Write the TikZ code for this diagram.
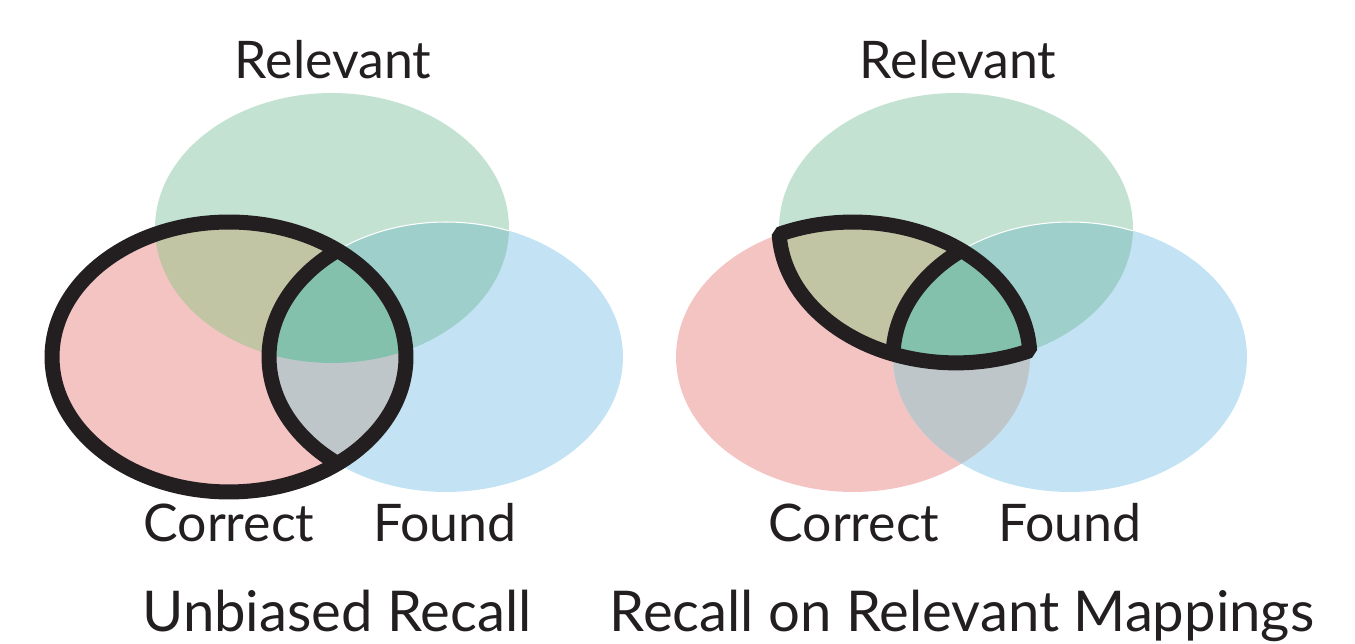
\documentclass[tikz,border=0pt]{standalone}
\usepackage{fontspec}
\setmainfont{Lato}
\definecolor{cG}{HTML}{C4E2D1}
\definecolor{cR}{HTML}{F4C4C3}
\definecolor{cB}{HTML}{C3E3F5}
\definecolor{cRC}{HTML}{C2C5A4}
\definecolor{cRF}{HTML}{9ECFCB}
\definecolor{cCF}{HTML}{BFC6C9}
\definecolor{cRCF}{HTML}{84C1AD}
\definecolor{ink}{HTML}{231F20}
\begin{document}
\begin{tikzpicture}[x=0.02cm,y=0.02cm,
  ell/.style={x radius=3.54cm, y radius=2.7cm},
  outline/.style={draw=ink, line width=0.3cm},
  lbl/.style={font=\fontsize{29.5}{32}\selectfont, text=ink, anchor=base, inner sep=0pt},
  ttl/.style={font=\fontsize{32}{36}\selectfont, text=ink, anchor=base, inner sep=0pt}]
\useasboundingbox (0,0) rectangle (1355,644);
\foreach \ox in {0,624}{
  \fill[cG] (332+\ox,416) ellipse[ell];
  \fill[cR] (229+\ox,287) ellipse[ell];
  \fill[cB] (446+\ox,287) ellipse[ell];
  \begin{scope}
    \clip (332+\ox,416) ellipse[ell];
    \fill[cRC] (229+\ox,287) ellipse[ell];
    \fill[cRF] (446+\ox,287) ellipse[ell];
  \end{scope}
  \begin{scope}
    \clip (229+\ox,287) ellipse[ell];
    \fill[cCF] (446+\ox,287) ellipse[ell];
    \clip (332+\ox,416) ellipse[ell];
    \fill[cRCF] (446+\ox,287) ellipse[ell];
  \end{scope}
  \begin{scope}
    \clip (332+\ox,416) ellipse[ell];
    \draw[white, line width=0.6pt] (446+\ox,287) ellipse[ell];
  \end{scope}
}
% left outline: Correct and Found arc inside it
\draw[outline] (229,287) ellipse[ell];
\begin{scope}
  \clip (229,287) ellipse[ell];
  \draw[outline] (446,287) ellipse[ell];
\end{scope}
% right outline: Relevant and Correct lens, Found arc inside it
\coordinate (P2) at (779.2,409.7);
\begin{scope}
  \clip (P2) arc[start angle=114.6, end angle=2.7, ell] arc[start angle=-65.4, end angle=-177.3, ell] -- cycle;
  \draw[outline] (1070,287) ellipse[ell];
\end{scope}
\draw[outline, line join=bevel] (P2) arc[start angle=114.6, end angle=2.7, ell] arc[start angle=-65.4, end angle=-177.3, ell] -- cycle;
% labels
\node[lbl] (relL) at (333,565) {Relevant};
\node[lbl] (corL) at (229,102) {Correct};
\node[lbl] (fndL) at (445,102) {Found};
\node[lbl] (relR) at (958,565) {Relevant};
\node[lbl] (corR) at (854,102) {Correct};
\node[lbl] (fndR) at (1070,102) {Found};
\node[ttl] (ttlL) at (337,12) {Unbiased Recall};
\node[ttl] (ttlR) at (962,12) {Recall on Relevant Mappings};
\end{tikzpicture}
\end{document}
